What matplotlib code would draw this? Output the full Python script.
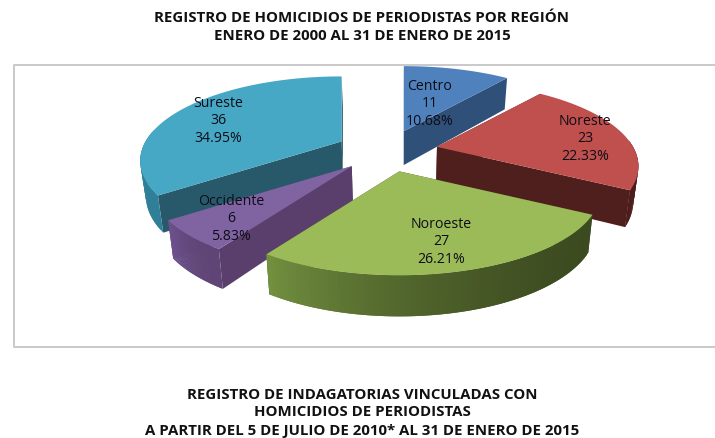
import numpy as np
import matplotlib
matplotlib.use('Agg')
import matplotlib.pyplot as plt
from matplotlib.colors import to_rgb

regions = ['Centro', 'Noreste', 'Noroeste', 'Occidente', 'Sureste']
values = [11, 23, 27, 6, 36]
title_top = ['REGISTRO DE HOMICIDIOS DE PERIODISTAS POR REGIÓN',
             'ENERO DE 2000 AL 31 DE ENERO DE 2015']
title_bottom = ['REGISTRO DE INDAGATORIAS VINCULADAS CON',
                'HOMICIDIOS DE PERIODISTAS',
                'A PARTIR DEL 5 DE JULIO DE 2010* AL 31 DE ENERO DE 2015']

# colours per slice
top_col = ['#4f81bd', '#c0504d', '#9bbb59', '#8064a2', '#46a8c4']
radial_col = ['#2f5078', '#4f1f1d', '#3f4c20', '#5a3f6c', '#27596a']
side_a = ['#2f5078', '#4f1f1d', '#3c4a20', '#5e4575', '#2f7f98']
side_b = ['#2f5078', '#4a1c1a', '#72903f', '#6f5392', '#3f96ae']

# pie projection, in pixels
cx, cy = 387, 152
R, k, persp = 196, 80, 0.23
ex, ey = 51, 21
shrink = 0.978

# label centre per slice, in pixels
label_xy = [(430, 104), (585, 139), (441, 242), (231, 219), (218, 121)]
draw_order = [0, 4, 1, 3, 2]

total = sum(values)
ends = np.cumsum(values) / total * 360
starts = ends - np.array(values) / total * 360


def project(theta):
    s = 1 / (1 + persp * np.cos(theta))
    return R * np.sin(theta) * s, -k * np.cos(theta) * s


def lower(x, y):
    # the same point on the bottom of the slab
    depth = 34 + (y - 134) * 0.05
    return 400 + (x - 400) * shrink, y + depth


def mix(a, b, t):
    a, b = np.array(to_rgb(a)), np.array(to_rgb(b))
    return tuple(a + (b - a) * t)


fig = plt.figure(figsize=(7.15, 4.39), dpi=100)
ax = fig.add_axes([0, 0, 1, 1])
ax.set_xlim(0, 715)
ax.set_ylim(439, 0)
ax.axis('off')

# chart frame
ax.plot([720, 13.5, 13.5, 720], [65.5, 65.5, 347.5, 347.5], color='#c9c9c9', lw=1.4)

for z, i in enumerate(draw_order):
    a0, a1 = np.radians(starts[i]), np.radians(ends[i])
    mid = (a0 + a1) / 2
    ax0 = cx + ex * np.sin(mid)
    ay0 = cy - ey * np.cos(mid)

    th = np.linspace(a0, a1, 80)
    dx, dy = project(th)
    xs, ys = ax0 + dx, ay0 + dy

    # radial walls
    for j in (-1, 0):
        bx, by = lower(np.array([ax0, xs[j]]), np.array([ay0, ys[j]]))
        ax.fill([ax0, xs[j], bx[1], bx[0]], [ay0, ys[j], by[1], by[0]],
                color=radial_col[i], lw=0, zorder=2 + z)

    # outer wall as thin strips, colour running along the arc
    bxs, bys = lower(xs, ys)
    for n in range(len(th) - 1):
        if np.cos(th[n]) > 0.1:
            continue
        m = min(n + 2, len(th) - 1)  # overlap so no seams show
        c = mix(side_a[i], side_b[i], (n / (len(th) - 2)) ** 2)
        ax.fill([xs[n], xs[m], bxs[m], bxs[n]],
                [ys[n], ys[m], bys[m], bys[n]],
                color=c, lw=0, zorder=2 + z)

    ax.fill(np.r_[ax0, xs], np.r_[ay0, ys], color=top_col[i], lw=0, zorder=2 + z)

    pct = values[i] / total * 100
    ax.text(label_xy[i][0], label_xy[i][1], f'{regions[i]}\n{values[i]}\n{pct:.2f}%',
            ha='center', va='center', fontsize=10.2, family='Open Sans',
            color='#0d0d18', linespacing=1.19, zorder=20)

for line, y in zip(title_top, (18, 36)):
    ax.text(362, y, line, ha='center', va='center', fontsize=10.8,
            family='Open Sans', weight='bold', color='#111111')
for line, y in zip(title_bottom, (395, 412, 431)):
    ax.text(362, y, line, ha='center', va='center', fontsize=10.8,
            family='Open Sans', weight='bold', color='#111111')

fig.savefig('out.png', dpi=100)
